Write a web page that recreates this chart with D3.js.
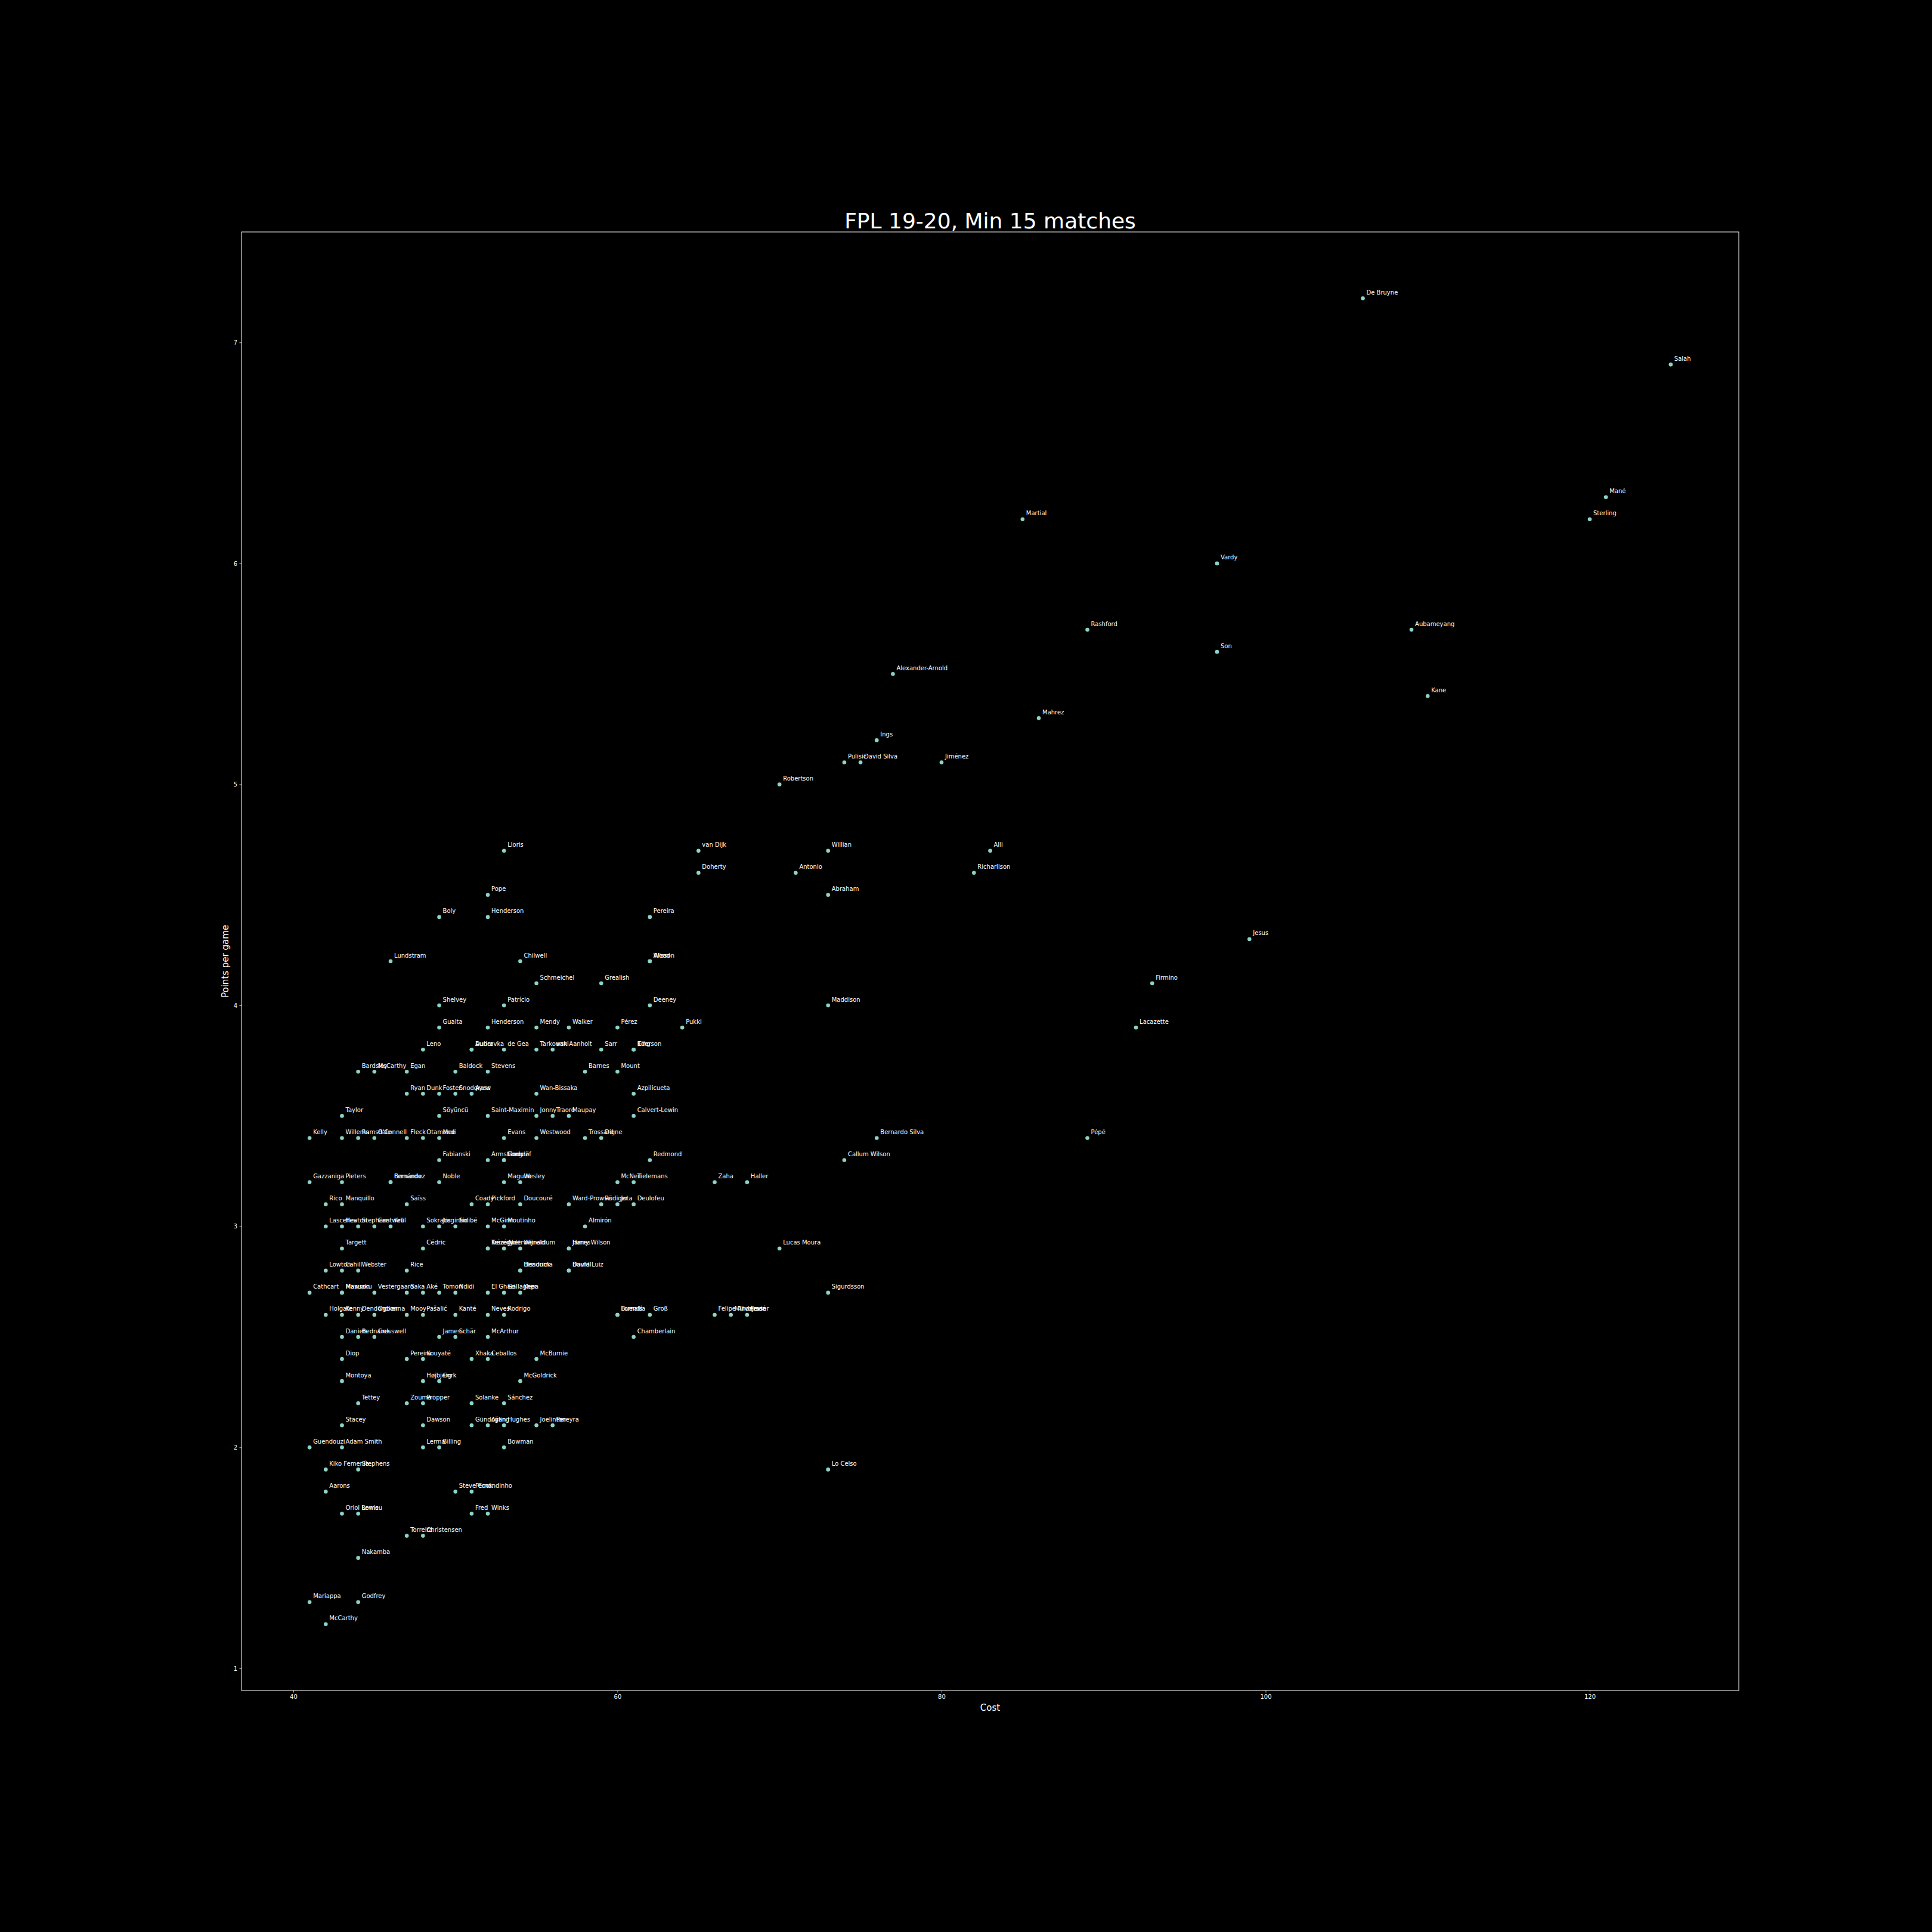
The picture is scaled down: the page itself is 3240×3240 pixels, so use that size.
<!DOCTYPE html>
<html><head><meta charset="utf-8">
<script src="https://cdn.jsdelivr.net/npm/d3@7"></script>
<style>html,body{margin:0;padding:0;background:#000;}svg{display:block;}</style>
</head><body>
<script>
const names = [
"De Bruyne","Salah","Mané","Sterling","Martial","Vardy","Rashford","Aubameyang","Son","Alexander-Arnold",
"Kane","Mahrez","Ings","Pulisic","David Silva","Jiménez","Robertson",
"van Dijk","Willian","Alli","Lloris","Doherty","Antonio","Richarlison","Pope","Abraham",
"Boly","Henderson","Pereira","Jesus","Lundstram","Chilwell","Wood","Alisson",
"Schmeichel","Grealish","Firmino","Shelvey","Patrício","Deeney","Maddison",
"Guaita","Henderson","Mendy","Walker","Pérez","Pukki","Lacazette",
"Leno","Dubravka","Aurier","de Gea","Tarkowski","van Aanholt","Sarr","Ederson","King",
"Bardsley","McCarthy","Egan","Baldock","Stevens","Barnes","Mount",
"Ryan","Dunk","Foster","Snodgrass","Ayew","Wan-Bissaka","Azpilicueta",
"Taylor","Söyüncü","Saint-Maximin","Jonny","Traoré","Maupay","Calvert-Lewin",
"Kelly","Willems","Ramsdale","O'Connell","Fleck","Otamendi","Mee","Evans","Westwood","Trossard","Digne","Bernardo Silva","Pépé",
"Fabianski","Armstrong","Lindelöf","Gomez","Redmond","Callum Wilson",
"Gazzaniga","Pieters","Fernández","Bernardo","Noble","Maguire","Wesley","McNeil","Tielemans","Zaha","Haller",
"Rico","Manquillo","Saïss","Coady","Pickford","Doucouré","Ward-Prowse","Rüdiger","Jota","Deulofeu",
"Lascelles","Heaton","Stephens","Cantwell","Krul","Sokratis","Jorginho","Sidibé","McGinn","Moutinho","Almirón",
"Targett","Cédric","Trézéguet","Kenedy","Alderweireld","Wijnaldum","Harry Wilson","James","Lucas Moura",
"Lowton","Cahill","Webster","Rice","Hendrick","Bissouma","David Luiz","Boufal",
"Cathcart","Mawson","Masuaku","Vestergaard","Saka","Aké","Tomori","Ndidi","El Ghazi","Gallagher","Kepa","Sigurdsson",
"Holgate","Kenny","Dendoncker","Ogbonna","Mooy","Pašalić","Kanté","Neves","Rodrigo","Fornals","Buendía","Groß","Felipe Anderson","Milivojević","Fraser",
"Daniels","Bednarek","Cresswell","James","Schär","McArthur","Chamberlain",
"Diop","Pereira","Kouyaté","Xhaka","Ceballos","McBurnie",
"Montoya","Højbjerg","Cork","McGoldrick",
"Tettey","Zouma","Pröpper","Solanke","Sánchez",
"Stacey","Dawson","Gündoğan","Ayling","Hughes","Joelinton","Pereyra",
"Guendouzi","Adam Smith","Lerma","Billing","Bowman",
"Kiko Femenía","Stephens","Lo Celso",
"Aarons","Steve Cook","Fernandinho",
"Oriol Romeu","Lewis","Fred","Winks",
"Torreira","Christensen",
"Nakamba",
"Mariappa","Godfrey",
"McCarthy"
];
const costs = [
106,125,121,120,85,97,89,109,97,77,
110,86,76,74,75,80,70,
65,73,83,53,65,71,82,52,73,
49,52,62,99,46,54,62,62,
55,59,93,49,53,62,73,
49,52,55,57,60,64,92,
48,51,51,53,55,56,59,61,61,
44,45,47,50,52,58,60,
47,48,49,50,51,55,61,
43,49,52,55,56,57,61,
41,43,44,45,47,48,49,53,55,58,59,76,89,
49,52,53,53,62,74,
41,43,46,46,49,53,54,60,61,66,68,
42,43,47,51,52,54,57,59,60,61,
42,43,44,45,46,48,49,50,52,53,58,
43,48,52,52,53,54,57,57,70,
42,43,44,47,54,54,57,57,
41,43,43,45,47,48,49,50,52,53,54,73,
42,43,44,45,47,48,50,52,53,60,60,62,66,67,68,
43,44,45,49,50,52,61,
43,47,48,51,52,55,
43,48,49,54,
44,47,48,51,53,
43,48,51,52,53,55,56,
41,43,48,49,53,
42,44,73,
42,50,51,
43,44,51,52,
47,48,
44,
41,44,
42
];
const ppg = [
7.2,6.9,6.3,6.2,6.2,6.0,5.7,5.7,5.6,5.5,
5.4,5.3,5.2,5.1,5.1,5.1,5.0,
4.7,4.7,4.7,4.7,4.6,4.6,4.6,4.5,4.5,
4.4,4.4,4.4,4.3,4.2,4.2,4.2,4.2,
4.1,4.1,4.1,4.0,4.0,4.0,4.0,
3.9,3.9,3.9,3.9,3.9,3.9,3.9,
3.8,3.8,3.8,3.8,3.8,3.8,3.8,3.8,3.8,
3.7,3.7,3.7,3.7,3.7,3.7,3.7,
3.6,3.6,3.6,3.6,3.6,3.6,3.6,
3.5,3.5,3.5,3.5,3.5,3.5,3.5,
3.4,3.4,3.4,3.4,3.4,3.4,3.4,3.4,3.4,3.4,3.4,3.4,3.4,
3.3,3.3,3.3,3.3,3.3,3.3,
3.2,3.2,3.2,3.2,3.2,3.2,3.2,3.2,3.2,3.2,3.2,
3.1,3.1,3.1,3.1,3.1,3.1,3.1,3.1,3.1,3.1,
3.0,3.0,3.0,3.0,3.0,3.0,3.0,3.0,3.0,3.0,3.0,
2.9,2.9,2.9,2.9,2.9,2.9,2.9,2.9,2.9,
2.8,2.8,2.8,2.8,2.8,2.8,2.8,2.8,
2.7,2.7,2.7,2.7,2.7,2.7,2.7,2.7,2.7,2.7,2.7,2.7,
2.6,2.6,2.6,2.6,2.6,2.6,2.6,2.6,2.6,2.6,2.6,2.6,2.6,2.6,2.6,
2.5,2.5,2.5,2.5,2.5,2.5,2.5,
2.4,2.4,2.4,2.4,2.4,2.4,
2.3,2.3,2.3,2.3,
2.2,2.2,2.2,2.2,2.2,
2.1,2.1,2.1,2.1,2.1,2.1,2.1,
2.0,2.0,2.0,2.0,2.0,
1.9,1.9,1.9,
1.8,1.8,1.8,
1.7,1.7,1.7,1.7,
1.6,1.6,
1.5,
1.3,1.3,
1.2
];
const xTicks = [40, 60, 80, 100, 120];
const yTicks = [1, 2, 3, 4, 5, 6, 7];
const titleText = "FPL 19-20, Min 15 matches";
const xLabel = "Cost";
const yLabel = "Points per game";

const W = 3240, H = 3240;
const m = {left: 405, right: 2916, top: 389, bottom: 2835};
const font = "'DejaVu Sans', sans-serif";

const svg = d3.select("body").append("svg")
  .attr("width", W).attr("height", H).style("background", "#000");
svg.append("rect").attr("width", W).attr("height", H).attr("fill", "#000");

const xs = d3.extent(costs), ys = d3.extent(ppg);
const xPad = (xs[1] - xs[0]) * 0.05, yPad = (ys[1] - ys[0]) * 0.05;
const x = d3.scaleLinear().domain([xs[0] - xPad, xs[1] + xPad]).range([m.left, m.right]);
const y = d3.scaleLinear().domain([ys[0] - yPad, ys[1] + yPad]).range([m.bottom, m.top]);

const data = names.map((n, i) => ({name: n, cost: costs[i], ppg: ppg[i]}));

// axes
const gx = svg.append("g").attr("transform", `translate(0,${m.bottom})`)
  .call(d3.axisBottom(x).tickValues(xTicks).tickSize(3.5).tickPadding(3.5).tickFormat(d3.format("d")));
const gy = svg.append("g").attr("transform", `translate(${m.left},0)`)
  .call(d3.axisLeft(y).tickValues(yTicks).tickSize(3.5).tickPadding(3.5).tickFormat(d3.format("d")));
[gx, gy].forEach(g => {
  g.select(".domain").remove();
  g.selectAll(".tick line").attr("stroke", "#fff").attr("stroke-width", 0.8);
  g.selectAll(".tick text").attr("fill", "#fff").style("font-family", font).style("font-size", "10px");
});

// frame
svg.append("rect").attr("x", m.left).attr("y", m.top)
  .attr("width", m.right - m.left).attr("height", m.bottom - m.top)
  .attr("fill", "none").attr("stroke", "#fff").attr("stroke-width", 1);

// points
svg.append("g").selectAll("circle").data(data).join("circle")
  .attr("cx", d => x(d.cost)).attr("cy", d => y(d.ppg)).attr("r", 3.3)
  .attr("fill", "#8dd3c7");

// labels
svg.append("g").selectAll("text").data(data).join("text")
  .attr("x", d => x(d.cost) + 6).attr("y", d => y(d.ppg) - 6.5)
  .attr("fill", "#fff").style("font-family", font).style("font-size", "10px")
  .text(d => d.name);

// title and axis labels
svg.append("text").attr("x", (m.left + m.right) / 2).attr("y", m.top - 6)
  .attr("text-anchor", "middle").attr("fill", "#fff")
  .style("font-family", font).style("font-size", "36px").text(titleText);
svg.append("text").attr("x", (m.left + m.right) / 2).attr("y", 2869)
  .attr("text-anchor", "middle").attr("fill", "#fff")
  .style("font-family", font).style("font-size", "15px").text(xLabel);
svg.append("text")
  .attr("transform", `translate(383,${(m.top + m.bottom) / 2}) rotate(-90)`)
  .attr("text-anchor", "middle").attr("fill", "#fff")
  .style("font-family", font).style("font-size", "15px").text(yLabel);
</script>
</body></html>
